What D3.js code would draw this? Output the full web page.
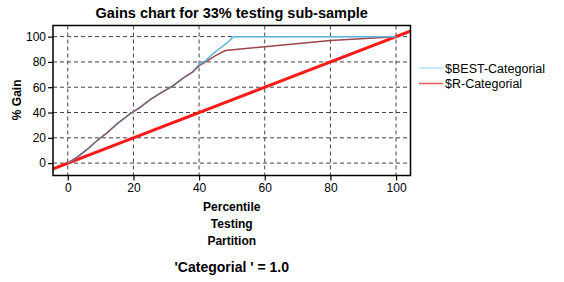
<!DOCTYPE html>
<html>
<head>
<meta charset="utf-8">
<style>
	body { margin: 0; background: #fff; }
	text { font-family: "Liberation Sans", Arial, sans-serif; fill: #000; }
	.grid line { stroke: #444; stroke-dasharray: 4,3; stroke-width: 1; }
</style>
</head>
<body>
<script src="https://cdn.jsdelivr.net/npm/d3@7"></script>
<script>

	// Data
	var bestX = [0, 3, 6, 9, 12, 15, 19, 22, 25, 28, 32, 35, 38, 40, 42, 44, 46, 48.5, 50.5, 100];
	var bestY = [0, 5, 11, 18, 24, 31, 39, 44, 50, 55, 61, 67, 72, 78, 81, 86, 90, 95, 100, 100];
	var rX = [0, 3, 6, 9, 12, 15, 19, 22, 25, 28, 32, 35, 38, 40, 42, 45, 48, 60, 80, 100];
	var rY = [0, 5, 11, 18, 24, 31, 39, 44, 50, 55, 61, 67, 72, 77, 80, 85, 89, 92, 97, 100];
	var baseX = [-10, 110];
	var seriesNames = ["$BEST-Categorial", "$R-Categorial"];
	var ticks = [0, 20, 40, 60, 80, 100];

	var width = 564, height = 282;
	var margin = {top: 25.5, left: 53, right: 153.5, bottom: 106.5};
	var w = width - margin.left - margin.right,
		h = height - margin.top - margin.bottom;

	var x = d3.scaleLinear().domain([-4.5, 104.4]).range([0, w]);
	var y = d3.scaleLinear().domain([-9.8, 108.8]).range([h, 0]);

	var svg = d3.select("body").append("svg")
		.attr("width", width)
		.attr("height", height);

	svg.append("defs").append("clipPath").attr("id", "clip")
		.append("rect").attr("width", w).attr("height", h);

	var g = svg.append("g")
		.attr("transform", "translate(" + margin.left + "," + margin.top + ")");

	// Grid
	var grid = g.append("g").attr("class", "grid");
	grid.selectAll(".v").data(ticks).enter().append("line")
		.attr("x1", function(d) { return x(d); })
		.attr("x2", function(d) { return x(d); })
		.attr("y1", 0).attr("y2", h);
	grid.selectAll(".h").data(ticks).enter().append("line")
		.attr("y1", function(d) { return y(d); })
		.attr("y2", function(d) { return y(d); })
		.attr("x1", 0).attr("x2", w);

	var line = d3.line()
		.x(function(d) { return x(d[0]); })
		.y(function(d) { return y(d[1]); });

	var plot = g.append("g").attr("clip-path", "url(#clip)");

	// Baseline
	plot.append("path")
		.datum(baseX.map(function(v) { return [v, v]; }))
		.attr("fill", "none").attr("stroke", "#ff1a1a").attr("stroke-width", 3)
		.attr("d", line);

	plot.append("path")
		.datum(rX.map(function(v, i) { return [v, rY[i]]; }))
		.attr("fill", "none").attr("stroke", "#a0444e").attr("stroke-width", 1.5)
		.attr("d", line);

	plot.append("path")
		.datum(bestX.map(function(v, i) { return [v, bestY[i]]; }))
		.attr("fill", "none").attr("stroke", "#5ab6de").attr("stroke-width", 1.5)
		.attr("d", line);

	// R drawn again on top where both curves overlap
	plot.append("path")
		.datum(rX.map(function(v, i) { return [v, rY[i]]; }).filter(function(d) { return d[0] <= 40; }))
		.attr("fill", "none").attr("stroke", "#9c4450").attr("stroke-width", 1.1).attr("opacity", 0.85)
		.attr("d", line);

	// Frame
	g.append("rect")
		.attr("width", w).attr("height", h)
		.attr("fill", "none").attr("stroke", "#000").attr("stroke-width", 1.5);

	// Axes
	var xAxis = g.append("g")
		.attr("transform", "translate(0," + h + ")")
		.call(d3.axisBottom(x).tickValues(ticks).tickSize(5).tickPadding(3));
	var yAxis = g.append("g")
		.call(d3.axisLeft(y).tickValues(ticks).tickSize(5).tickPadding(2));
	[xAxis, yAxis].forEach(function(a) {
		a.select(".domain").remove();
		a.selectAll("line").attr("stroke", "#000").attr("stroke-width", 1.2);
		a.selectAll("text").style("font-family", "Liberation Sans, Arial, sans-serif").style("font-size", "12px");
	});

	// Titles
	var cx = margin.left + w / 2;
	svg.append("text").attr("x", cx).attr("y", 18)
		.attr("text-anchor", "middle").style("font-size", "14.5px").style("font-weight", "bold")
		.text("Gains chart for 33% testing sub-sample");

	["Percentile", "Testing", "Partition"].forEach(function(t, i) {
		svg.append("text").attr("x", cx).attr("y", 211 + i * 17)
			.attr("text-anchor", "middle").style("font-size", "12px").style("font-weight", "bold")
			.text(t);
	});

	svg.append("text").attr("x", cx).attr("y", 272)
		.attr("text-anchor", "middle").style("font-size", "14px").style("font-weight", "bold")
		.text("'Categorial ' = 1.0");

	svg.append("text")
		.attr("transform", "translate(21," + (margin.top + y(50)) + ") rotate(-90)")
		.attr("text-anchor", "middle").style("font-size", "12px").style("font-weight", "bold")
		.text("% Gain");

	// Legend
	var legColors = ["#b8e6f6", "#e05a5a"];
	var leg = svg.append("g").attr("transform", "translate(419,68)");
	seriesNames.forEach(function(n, i) {
		leg.append("line").attr("x1", 0).attr("x2", 24)
			.attr("y1", i * 15.5).attr("y2", i * 15.5)
			.attr("stroke", legColors[i]).attr("stroke-width", 1.5);
		leg.append("text").attr("x", 26).attr("y", i * 15.5 + 4.5)
			.style("font-size", "12.5px").text(n);
	});

</script>
</body>
</html>
